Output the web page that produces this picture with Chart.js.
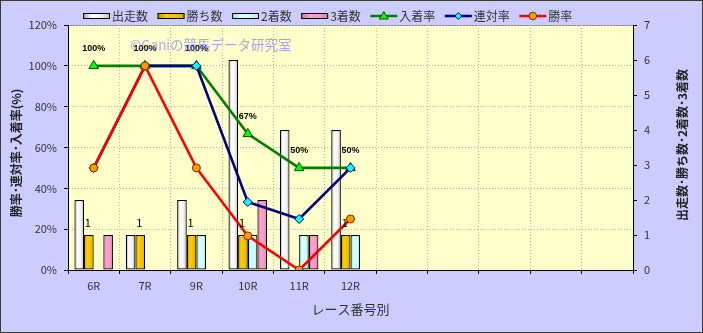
<!DOCTYPE html>
<html>
<head>
<meta charset="utf-8">
<script src="https://cdn.jsdelivr.net/npm/chart.js@4/dist/chart.umd.min.js"></script>
<style>
html,body{margin:0;padding:0;background:#CCCCFF;}
#wrap{width:703px;height:333px;}
</style>
</head>
<body>
<div id="wrap"><canvas id="c" width="703" height="333"></canvas></div>
<script>
// ---- data ----
const categories = ['6R','7R','9R','10R','11R','12R','','','','',''];
const starts   = [2,1,2,6,4,4];
const wins     = [1,1,1,1,0,1];
const seconds  = [0,0,1,1,1,1];
const thirds   = [1,0,0,2,1,0];
const placeRate = [100,100,100,66.7,50,50];
const top2Rate  = [50,100,100,33.3,25,50];
const winRate   = [50,100,50,16.7,0,25];
const seriesNames = ['出走数','勝ち数','2着数','3着数','入着率','連対率','勝率'];
const titleLeft  = '勝率･連対率･入着率(%)';
const titleRight = '出走数･勝ち数･2着数･3着数';
const titleX     = 'レース番号別';
const watermark  = '©Ganiの競馬データ研究室';

const JP = '"Noto Sans CJK JP", "Noto Sans", sans-serif';

const fills = {
  white: [[0,'#9a9a9a'],[0.3,'#ffffff'],[0.65,'#f4f4f4'],[1,'#bdbdbd']],
  gold:  [[0,'#b88a00'],[0.3,'#ffcc00'],[0.7,'#f2c000'],[1,'#d9a800']],
  cyan:  [[0,'#8fd0d0'],[0.3,'#d6ffff'],[0.7,'#ccffff'],[1,'#a8e6e6']],
  pink:  [[0,'#c86c9c'],[0.3,'#ff9fcf'],[0.7,'#f598c8'],[1,'#d880ac']]
};
function grad(ctx, x0, x1, stops){
  const g = ctx.createLinearGradient(x0,0,x1,0);
  stops.forEach(s=>g.addColorStop(s[0],s[1]));
  return g;
}
function barFill(stops){
  return (c)=>{
    const el = c.element;
    if(!el || !Number.isFinite(el.x) || !Number.isFinite(el.width)) return stops[2][1];
    return grad(c.chart.ctx, el.x-el.width/2, el.x+el.width/2, stops);
  };
}
const bw = c => (c.raw ? 1.2 : 0);

function barDs(label, data, stops){
  return {type:'bar', label, data, yAxisID:'y1', order:10,
    backgroundColor: barFill(stops), borderColor:'#000', borderWidth: bw,
    borderSkipped:false, categoryPercentage:0.75, barPercentage:1.0, _stops:stops};
}
function lineDs(label, data, color, style, radius, fill, pborder, order){
  return {type:'line', label, data, yAxisID:'y', order,
    borderColor:color, borderWidth:2.6, tension:0, fill:false,
    pointStyle:style, pointRadius:radius, pointHoverRadius:radius,
    pointBackgroundColor:fill, pointBorderColor:pborder, pointBorderWidth:1};
}

const datasets = [
  barDs(seriesNames[0], starts, fills.white),
  barDs(seriesNames[1], wins, fills.gold),
  barDs(seriesNames[2], seconds, fills.cyan),
  barDs(seriesNames[3], thirds, fills.pink),
  lineDs(seriesNames[4], placeRate, '#008000', 'triangle', 5.5, '#00ff00', '#005000', 3),
  lineDs(seriesNames[5], top2Rate, '#000080', 'rectRot', 4.5, '#00ffff', '#000080', 2),
  lineDs(seriesNames[6], winRate, '#ff0000', 'circle', 4, '#ff9900', '#703000', 1)
];

const decor = {
  id:'decor',
  beforeDraw(chart){
    const ctx = chart.ctx, a = chart.chartArea;
    ctx.save();
    ctx.fillStyle = '#CCCCFF';
    ctx.fillRect(0,0,chart.width,chart.height);
    ctx.strokeStyle = '#3a3a3a'; ctx.lineWidth = 1;
    ctx.strokeRect(0.5,0.5,chart.width-1,chart.height-1);
    ctx.fillStyle = '#FFFFCC';
    ctx.fillRect(a.left,a.top,a.right-a.left,a.bottom-a.top);
    ctx.strokeStyle = '#8a8a8a';
    ctx.beginPath(); ctx.moveTo(a.left,a.top+0.5); ctx.lineTo(a.right,a.top+0.5); ctx.stroke();
    ctx.restore();
  },
  afterDatasetsDraw(chart){
    const ctx = chart.ctx, a = chart.chartArea;
    ctx.save();
    // 入着率 labels
    const mPlace = chart.getDatasetMeta(4);
    ctx.fillStyle = '#000';
    ctx.font = 'bold 9px "Liberation Sans", Arial, sans-serif';
    ctx.textAlign = 'center'; ctx.textBaseline = 'middle';
    mPlace.data.forEach((p,i)=>{
      ctx.fillText(Math.round(placeRate[i])+'%', p.x, p.y-17);
    });
    // 勝ち数 labels
    const mWin = chart.getDatasetMeta(1);
    ctx.font = '11px ' + JP;
    ctx.textBaseline = 'alphabetic';
    mWin.data.forEach((b,i)=>{
      if(wins[i]) ctx.fillText(String(wins[i]), b.x-1, b.y-8);
    });
    // watermark
    ctx.font = '13.5px ' + JP;
    ctx.textAlign = 'left'; ctx.textBaseline = 'middle';
    ctx.fillStyle = 'rgba(120,120,245,0.65)';
    ctx.fillText(watermark, a.left+62, 45);
    ctx.restore();
  },
  afterDraw(chart){
    const ctx = chart.ctx, a = chart.chartArea;
    ctx.save();
    // axis titles
    ctx.fillStyle = '#222';
    ctx.font = 'bold 12px ' + JP;
    ctx.textAlign = 'center'; ctx.textBaseline = 'middle';
    ctx.save(); ctx.translate(16, 153); ctx.rotate(-Math.PI/2); ctx.fillText(titleLeft,0,0); ctx.restore();
    ctx.save(); ctx.translate(682, 145); ctx.rotate(-Math.PI/2); ctx.fillText(titleRight,0,0); ctx.restore();
    ctx.fillStyle = '#333';
    ctx.font = '13px ' + JP;
    ctx.fillText(titleX, (a.left+a.right)/2, 309);
    // legend
    let x = a.left + 15; const cy = 16;
    ctx.font = '12px ' + JP;
    ctx.textAlign = 'left';
    chart.data.datasets.forEach((ds)=>{
      if(ds.type === 'bar'){
        ctx.fillStyle = grad(ctx, x, x+27, ds._stops);
        ctx.fillRect(x, cy-3, 27, 6);
        ctx.strokeStyle = '#000'; ctx.lineWidth = 1;
        ctx.strokeRect(x+0.5, cy-3+0.5, 26, 5);
      } else {
        ctx.strokeStyle = ds.borderColor; ctx.lineWidth = 2.5;
        ctx.beginPath(); ctx.moveTo(x, cy); ctx.lineTo(x+27, cy); ctx.stroke();
        ctx.fillStyle = ds.pointBackgroundColor; ctx.strokeStyle = ds.pointBorderColor; ctx.lineWidth = 1;
        const mx = x+13.5;
        ctx.beginPath();
        if(ds.pointStyle==='triangle'){
          ctx.moveTo(mx, cy-4.5); ctx.lineTo(mx+4.5, cy+3); ctx.lineTo(mx-4.5, cy+3); ctx.closePath();
        } else if(ds.pointStyle==='rectRot'){
          ctx.moveTo(mx, cy-3.5); ctx.lineTo(mx+3.5, cy); ctx.lineTo(mx, cy+3.5); ctx.lineTo(mx-3.5, cy); ctx.closePath();
        } else {
          ctx.arc(mx, cy, 3.8, 0, Math.PI*2);
        }
        ctx.fill(); ctx.stroke();
      }
      ctx.fillStyle = '#333';
      ctx.fillText(ds.label, x+29, cy+0.5);
      x += 29 + ctx.measureText(ds.label).width + 9.5;
    });
    ctx.restore();
  }
};

const tickFont = {family: JP, size: 11};
const chart = new Chart(document.getElementById('c'), {
  data: {labels: categories, datasets},
  options: {
    responsive:false, animation:false,
    layout:{padding:{top:25,left:0,right:0,bottom:0}},
    plugins:{legend:{display:false}, tooltip:{enabled:false}},
    scales:{
      x:{
        offset:true,
        grid:{display:true, offset:true, color:'#b4b4b4', lineWidth:1, drawTicks:true, tickLength:4, tickColor:'#000', tickBorderDash:[]},
        border:{display:true, color:'#000', width:1, dash:[1,2]},
        ticks:{font:tickFont, color:'#333', padding:5, maxRotation:0, autoSkip:false},
        afterFit(s){ s.height = 63; }
      },
      y:{
        position:'left', min:0, max:120,
        grid:{color:'#b4b4b4', lineWidth:1, tickLength:4, tickColor:'#000', tickBorderDash:[]},
        border:{display:true, color:'#000', width:1, dash:[1,2]},
        ticks:{stepSize:20, font:tickFont, color:'#333', padding:7, callback:v=>v+'%'},
        afterFit(s){ s.width = 68; }
      },
      y1:{
        position:'right', min:0, max:7,
        grid:{drawOnChartArea:false, tickLength:4, tickColor:'#000'},
        border:{display:true, color:'#000', width:1},
        ticks:{stepSize:1, font:tickFont, color:'#333', padding:7},
        afterFit(s){ s.width = 70; }
      }
    }
  },
  plugins:[decor]
});
chart.update();
</script>
</body>
</html>
